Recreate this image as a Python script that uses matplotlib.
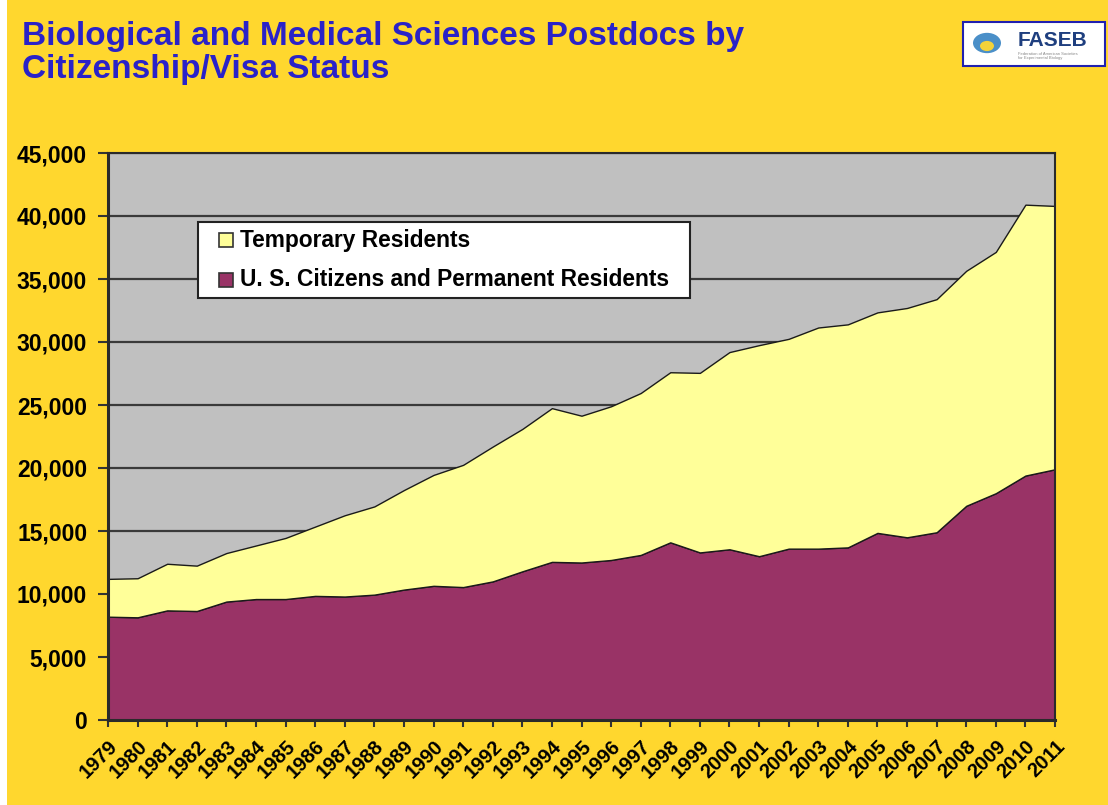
import matplotlib.pyplot as plt
from matplotlib.patches import Rectangle, Circle
from matplotlib.ticker import FuncFormatter

# Dados
anos = list(range(1979, 2012))
cidadaos = [8200, 8150, 8700, 8650, 9400, 9600, 9600, 9850, 9800, 9950,
            10350, 10650, 10550, 11000, 11800, 12550, 12500, 12700, 13100, 14100,
            13300, 13550, 13000, 13600, 13600, 13700, 14850, 14500, 14900, 17000,
            18000, 19400, 19900]
temporarios = [3000, 3100, 3700, 3600, 3850, 4250, 4850, 5500, 6450, 7000,
               7900, 8800, 9700, 10700, 11300, 12200, 11650, 12200, 12850, 13500,
               14250, 15650, 16750, 16650, 17550, 17700, 17500, 18200, 18500, 18650,
               19150, 21500, 20900]
rotulos = ["Temporary Residents", "U. S. Citizens and Permanent Residents"]
yticks = list(range(0, 45001, 5000))

amarelo_fundo = "#FFD72E"
roxo = "#993366"
amarelo = "#FFFF99"
azul_titulo = "#2A22C8"
fonte = "Liberation Sans"
W, H = 1108, 805


def fx(px):
    return px / W


def fy(py):
    return 1 - py / H


fig = plt.figure(figsize=(11.08, 8.05), dpi=100, facecolor=amarelo_fundo)
# faixa branca na borda esquerda
fig.patches.append(Rectangle((0, 0), fx(7), 1, transform=fig.transFigure,
                             facecolor="white", edgecolor="none"))

ax = fig.add_axes([fx(108), fy(720), fx(1055 - 108), (720 - 153) / H])
ax.set_facecolor("#C0C0C0")

ax.stackplot(anos, cidadaos, temporarios, colors=[roxo, amarelo],
             edgecolor="#1a1a1a", linewidth=1.0, zorder=3)

ax.set_xlim(1979, 2011)
ax.set_ylim(0, 45000)
ax.set_yticks(yticks)
ax.yaxis.set_major_formatter(FuncFormatter(lambda v, p: "{:,}".format(int(v))))
ax.set_xticks(anos)
ax.set_xticklabels([str(a) for a in anos], rotation=45, ha="right",
                   rotation_mode="anchor", fontsize=14.5, fontweight="bold",
                   family=fonte)
for lbl in ax.get_yticklabels():
    lbl.set_fontsize(16.5)
    lbl.set_fontweight("bold")
    lbl.set_family(fonte)

ax.grid(axis="y", color="#3a3a3a", linewidth=1.6, zorder=1)
ax.set_axisbelow(True)
ax.tick_params(axis="y", direction="out", length=7, width=1.5, color="#333333", pad=8)
ax.tick_params(axis="x", direction="out", length=5, width=1.5, color="#333333", pad=7)
for lado in ["left", "bottom"]:
    ax.spines[lado].set_linewidth(2.2)
    ax.spines[lado].set_color("#2a2a2a")
for lado in ["top", "right"]:
    ax.spines[lado].set_linewidth(1.5)
    ax.spines[lado].set_color("#2a2a2a")
for s in ax.spines.values():
    s.set_zorder(5)

# Legenda desenhada à mão (caixa branca com quadrados)
fig.patches.append(Rectangle((fx(198), fy(298)), fx(690 - 198), (298 - 222) / H,
                             transform=fig.transFigure, facecolor="white",
                             edgecolor="#222222", linewidth=1.5, zorder=10))
for cor, rotulo, yc in zip([amarelo, roxo], rotulos, [240, 280]):
    fig.patches.append(Rectangle((fx(219), fy(yc + 7)), fx(14), 14 / H,
                                 transform=fig.transFigure, facecolor=cor,
                                 edgecolor="#333333", linewidth=1.2, zorder=11))
    fig.text(fx(240), fy(yc), rotulo, ha="left", va="center", fontsize=16.4,
             fontweight="bold", family=fonte, color="black", zorder=12)

# Título
fig.text(fx(22), fy(21),
         "Biological and Medical Sciences Postdocs by\nCitizenship/Visa Status",
         ha="left", va="top", fontsize=24, fontweight="bold", color=azul_titulo,
         family=fonte, linespacing=1.08)

# Logotipo FASEB (simplificado)
fig.patches.append(Rectangle((fx(963), fy(66)), fx(142), 44 / H,
                             transform=fig.transFigure, facecolor="white",
                             edgecolor="#2020B0", linewidth=1.5))
fig.patches.append(Circle((fx(987), fy(43)), fx(14),
                          transform=fig.transFigure, facecolor="#4A8FC8",
                          edgecolor="none"))
fig.patches.append(Circle((fx(987), fy(46)), fx(7),
                          transform=fig.transFigure, facecolor="#F2D23A",
                          edgecolor="none"))
fig.text(fx(1018), fy(40), "FASEB", ha="left", va="center", fontsize=15,
         fontweight="bold", color="#1F3F7F", family=fonte)
fig.text(fx(1018), fy(56),
         "Federation of American Societies\nfor Experimental Biology",
         ha="left", va="center", fontsize=3, color="#888888", family=fonte)

plt.savefig("out.png", dpi=100, facecolor=fig.get_facecolor())
plt.close()
